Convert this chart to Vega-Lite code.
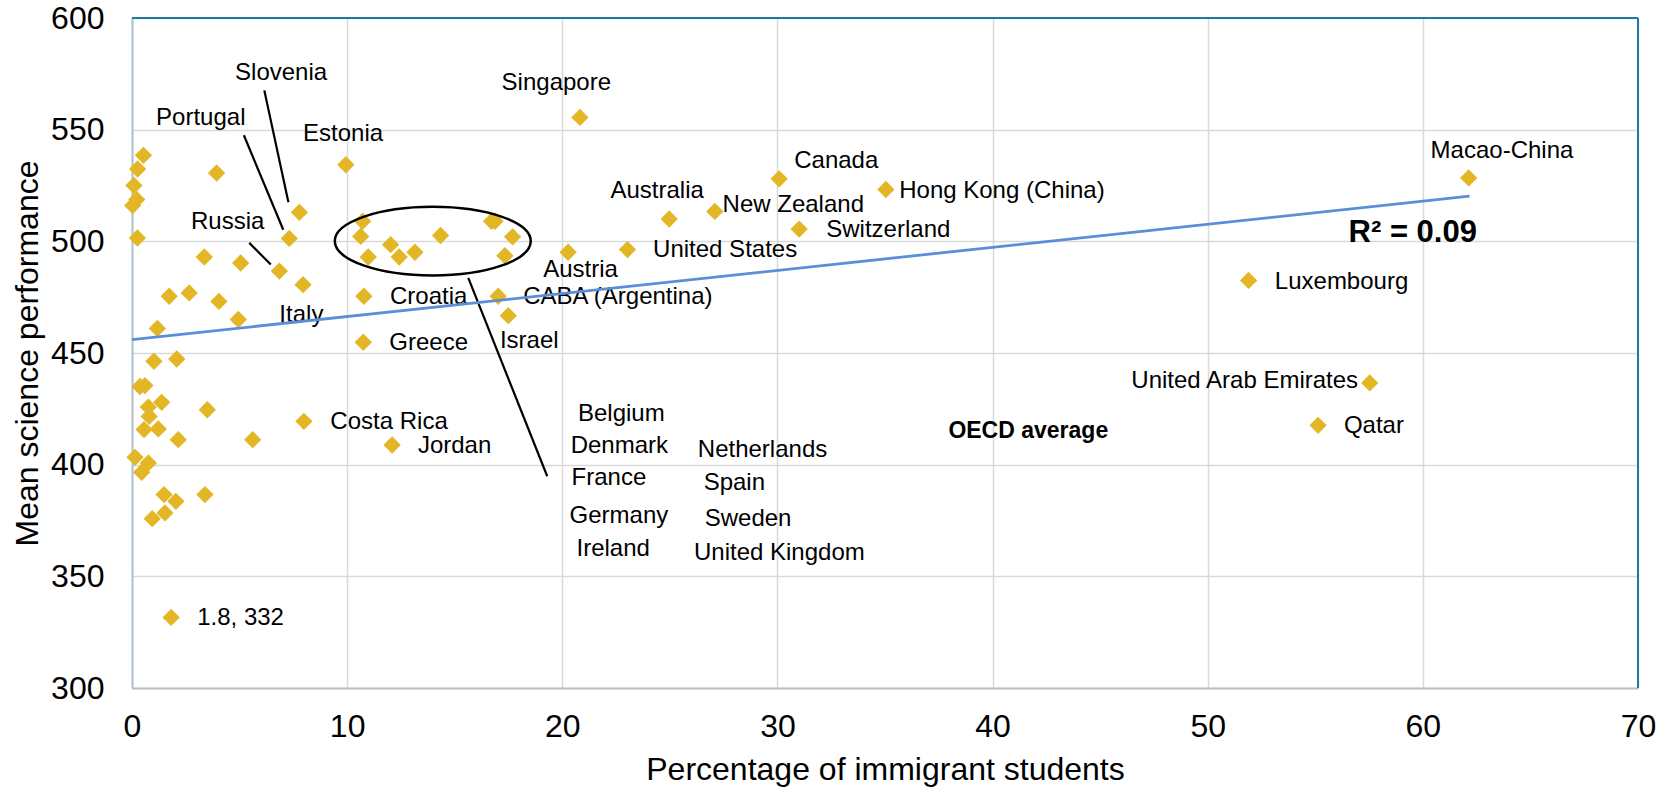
{
  "$schema": "https://vega.github.io/schema/vega-lite/v6.json",
  "width": 1506,
  "height": 670,
  "autosize": {"type": "none"},
  "padding": {"left": 132, "top": 18, "right": 29, "bottom": 100},
  "background": "white",
  "config": {"view": {"stroke": null}, "font": "Liberation Sans"},
  "datasets": {
    "points": [
      {"x": 0.53, "y": 538.5}, {"x": 0.26, "y": 532.4}, {"x": 3.93, "y": 530.6}, {"x": 0.09, "y": 525},
      {"x": 0.22, "y": 518.7}, {"x": 0.03, "y": 516}, {"x": 0.25, "y": 501.5},
      {"x": 7.78, "y": 513}, {"x": 7.31, "y": 501.3}, {"x": 3.36, "y": 493}, {"x": 5.05, "y": 490.3},
      {"x": 6.85, "y": 486.7}, {"x": 7.95, "y": 480.6},
      {"x": 1.73, "y": 475.4}, {"x": 2.66, "y": 476.9}, {"x": 4.04, "y": 473.1}, {"x": 4.94, "y": 465},
      {"x": 1.18, "y": 461}, {"x": 1.02, "y": 446.3}, {"x": 2.08, "y": 447.3},
      {"x": 0.37, "y": 435}, {"x": 0.6, "y": 435.4}, {"x": 1.38, "y": 427.9}, {"x": 0.76, "y": 425.8},
      {"x": 0.8, "y": 421.6}, {"x": 0.56, "y": 415.7}, {"x": 1.22, "y": 416}, {"x": 2.15, "y": 411.2},
      {"x": 3.5, "y": 424.6}, {"x": 5.61, "y": 411.2}, {"x": 7.99, "y": 419.4},
      {"x": 0.14, "y": 403.3}, {"x": 0.76, "y": 400.8}, {"x": 0.45, "y": 396.6}, {"x": 1.49, "y": 386.6},
      {"x": 2.04, "y": 383.6}, {"x": 3.39, "y": 386.6}, {"x": 1.53, "y": 378.4}, {"x": 0.94, "y": 375.8},
      {"x": 1.82, "y": 331.6},
      {"x": 9.94, "y": 534.3},
      {"x": 10.72, "y": 509}, {"x": 10.63, "y": 502.2}, {"x": 10.98, "y": 493}, {"x": 12.02, "y": 498.5},
      {"x": 12.42, "y": 493}, {"x": 13.15, "y": 495.1}, {"x": 14.34, "y": 502.6}, {"x": 16.71, "y": 509},
      {"x": 16.87, "y": 509}, {"x": 17.69, "y": 502}, {"x": 17.33, "y": 493.6},
      {"x": 10.78, "y": 475.4}, {"x": 10.75, "y": 454.8}, {"x": 17.02, "y": 475.4}, {"x": 17.49, "y": 466.7},
      {"x": 12.09, "y": 408.8},
      {"x": 20.82, "y": 555.5}, {"x": 24.97, "y": 510}, {"x": 27.09, "y": 513.4}, {"x": 30.08, "y": 528},
      {"x": 35.04, "y": 523.2}, {"x": 31.01, "y": 505.5}, {"x": 20.27, "y": 495.1}, {"x": 23.03, "y": 496.3},
      {"x": 62.13, "y": 528.4}, {"x": 51.9, "y": 482.5}, {"x": 57.53, "y": 436.6}, {"x": 55.13, "y": 417.6}
    ],
    "labels": [
      {"t": "Slovenia", "x": 4.79, "y": 575.4},
      {"t": "Portugal", "x": 1.12, "y": 555.3},
      {"t": "Estonia", "x": 7.95, "y": 548.1},
      {"t": "Russia", "x": 2.74, "y": 508.5},
      {"t": "Italy", "x": 6.85, "y": 467.2},
      {"t": "Croatia", "x": 11.99, "y": 475.1},
      {"t": "Greece", "x": 11.96, "y": 454.5},
      {"t": "CABA (Argentina)", "x": 18.18, "y": 475.1},
      {"t": "Israel", "x": 17.1, "y": 455.2},
      {"t": "Austria", "x": 19.11, "y": 487.3},
      {"t": "United States", "x": 24.22, "y": 496},
      {"t": "Australia", "x": 22.24, "y": 522.7},
      {"t": "New Zealand", "x": 27.45, "y": 516.4},
      {"t": "Canada", "x": 30.78, "y": 535.8},
      {"t": "Hong Kong (China)", "x": 35.66, "y": 522.7},
      {"t": "Switzerland", "x": 32.27, "y": 504.9},
      {"t": "Singapore", "x": 17.18, "y": 570.9},
      {"t": "Macao-China", "x": 60.36, "y": 540.3},
      {"t": "Luxembourg", "x": 53.12, "y": 482},
      {"t": "Qatar", "x": 56.33, "y": 417.1},
      {"t": "Costa Rica", "x": 9.22, "y": 418.9},
      {"t": "Jordan", "x": 13.29, "y": 408.2},
      {"t": "1.8, 332", "x": 3.03, "y": 331.4},
      {"t": "Belgium", "x": 20.73, "y": 422.7},
      {"t": "Denmark", "x": 20.39, "y": 408.2},
      {"t": "France", "x": 20.43, "y": 394},
      {"t": "Germany", "x": 20.34, "y": 376.8},
      {"t": "Ireland", "x": 20.66, "y": 362.4},
      {"t": "Netherlands", "x": 26.3, "y": 406.7},
      {"t": "Spain", "x": 26.57, "y": 391.8},
      {"t": "Sweden", "x": 26.62, "y": 375.7},
      {"t": "United Kingdom", "x": 26.12, "y": 360.5}
    ],
    "labelsRight": [
      {"t": "United Arab Emirates", "x": 56.99, "y": 437.3}
    ],
    "r2": [{"t": "R² = 0.09", "x": 59.53, "y": 503.8}],
    "oecd": [{"t": "OECD average", "x": 41.66, "y": 414.9}],
    "leaders": [
      {"x": 6.15, "y": 567.6, "x2": 7.27, "y2": 517.5},
      {"x": 5.2, "y": 547.5, "x2": 7.03, "y2": 505.2},
      {"x": 5.45, "y": 499.3, "x2": 6.45, "y2": 489.6},
      {"x": 15.63, "y": 483.6, "x2": 19.3, "y2": 394.8}
    ],
    "frame": [
      {"x": 0, "y": 600, "x2": 70, "y2": 600},
      {"x": 70, "y": 300, "x2": 70, "y2": 600}
    ],
    "ellipse": [{"x": 13.98, "y": 500.1}],
    "trend": [{"x": 0, "y": 456}, {"x": 62.17, "y": 520.2}]
  },
  "encoding": {
    "x": {
      "field": "x", "type": "quantitative",
      "scale": {"domain": [0, 70], "nice": false, "zero": false},
      "axis": {
        "title": "Percentage of immigrant students",
        "values": [0, 10, 20, 30, 40, 50, 60, 70],
        "grid": true, "gridColor": "#D9D9D9", "gridWidth": 1.5,
        "ticks": false, "tickSize": 0,
        "labelFontSize": 32, "labelColor": "#000000", "labelPadding": 23, "labelFlush": false, "labelOverlap": false,
        "titleFontSize": 32, "titleFontWeight": "normal", "titleColor": "#000000", "titlePadding": 12,
        "domainColor": "#B5C0C6", "domainWidth": 2
      }
    },
    "y": {
      "field": "y", "type": "quantitative",
      "scale": {"domain": [300, 600], "nice": false, "zero": false},
      "axis": {
        "title": "Mean science performance",
        "values": [300, 350, 400, 450, 500, 550, 600],
        "grid": true, "gridColor": "#D9D9D9", "gridWidth": 1.5,
        "ticks": false, "tickSize": 0,
        "labelFontSize": 32, "labelColor": "#000000", "labelPadding": 28, "labelOverlap": false,
        "titleFontSize": 32, "titleFontWeight": "normal", "titleColor": "#000000", "titlePadding": 6,
        "domainColor": "#B0C2CE", "domainWidth": 2
      }
    }
  },
  "layer": [
    {
      "data": {"name": "frame"},
      "mark": {"type": "rule", "color": "#20799E", "strokeWidth": 2},
      "encoding": {"x2": {"field": "x2"}, "y2": {"field": "y2"}}
    },
    {
      "data": {"name": "points"},
      "mark": {"type": "point", "shape": "diamond", "filled": true, "size": 300, "color": "#E3B626", "opacity": 1}
    },
    {
      "data": {"name": "labels"},
      "mark": {"type": "text", "align": "left", "baseline": "middle", "fontSize": 24, "color": "#000000"},
      "encoding": {"text": {"field": "t"}}
    },
    {
      "data": {"name": "labelsRight"},
      "mark": {"type": "text", "align": "right", "baseline": "middle", "fontSize": 24, "color": "#000000"},
      "encoding": {"text": {"field": "t"}}
    },
    {
      "data": {"name": "r2"},
      "mark": {"type": "text", "align": "center", "baseline": "middle", "fontSize": 31, "fontWeight": "bold", "color": "#000000"},
      "encoding": {"text": {"field": "t"}}
    },
    {
      "data": {"name": "oecd"},
      "mark": {"type": "text", "align": "center", "baseline": "middle", "fontSize": 23, "fontWeight": "bold", "color": "#000000"},
      "encoding": {"text": {"field": "t"}}
    },
    {
      "data": {"name": "leaders"},
      "mark": {"type": "rule", "color": "#000000", "strokeWidth": 2.2},
      "encoding": {"x2": {"field": "x2"}, "y2": {"field": "y2"}}
    },
    {
      "data": {"name": "ellipse"},
      "mark": {
        "type": "point",
        "shape": "M-1,0C-1,-0.1933,-0.5523,-0.35,0,-0.35C0.5523,-0.35,1,-0.1933,1,0C1,0.1933,0.5523,0.35,0,0.35C-0.5523,0.35,-1,0.1933,-1,0Z",
        "size": 38416, "filled": false, "stroke": "#000000", "strokeWidth": 2.5, "opacity": 1
      }
    },
    {
      "data": {"name": "trend"},
      "mark": {"type": "line", "color": "#5A8FD8", "strokeWidth": 2.8},
      "encoding": {}
    }
  ]
}
